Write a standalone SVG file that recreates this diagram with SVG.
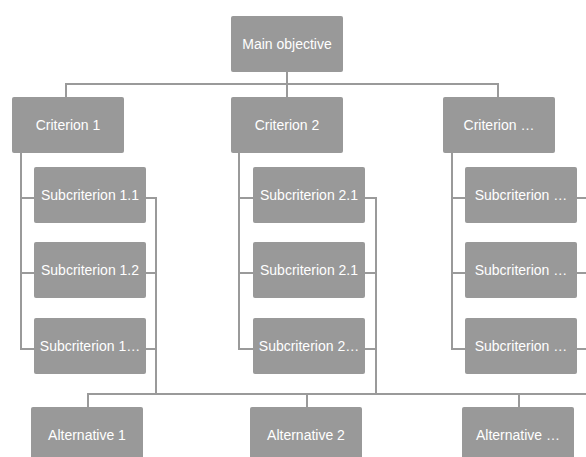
<svg xmlns="http://www.w3.org/2000/svg" width="586" height="457" viewBox="0 0 586 457">
<style>
.box{fill:#999999;}
.lbl{fill:#ffffff;font-family:"Liberation Sans",Arial,sans-serif;font-size:14px;text-anchor:middle;}
.ln{fill:none;stroke:#9a9a9a;stroke-width:2;}
</style>
<rect width="586" height="457" fill="#ffffff"/>
<g id="connectors">
<path class="ln" d="M287 72V97M66 97V84H498V97"/>
<path class="ln" d="M21 153V349H34M21 198H34M21 273H34"/>
<path class="ln" d="M239 153V349H253M239 198H253M239 273H253"/>
<path class="ln" d="M452 153V349H465M452 198H465M452 273H465"/>
<path class="ln" d="M146 198H156V394M146 273H156M146 349H156"/>
<path class="ln" d="M365 198H376V394M365 273H376M365 349H376"/>
<path class="ln" d="M577 198H590M577 273H590M577 349H590"/>
<path class="ln" d="M88 407V394H592M307 394V407M519 394V407"/>
</g>
<g id="main"><rect class="box" x="231" y="16" width="112" height="56" rx="2"/><text class="lbl" x="287" y="49">Main objective</text></g>
<g id="c1"><rect class="box" x="12" y="97" width="112" height="56" rx="2"/><text class="lbl" x="68" y="130">Criterion 1</text></g>
<g id="c2"><rect class="box" x="231" y="97" width="112" height="56" rx="2"/><text class="lbl" x="287" y="130">Criterion 2</text></g>
<g id="c3"><rect class="box" x="443" y="97" width="112" height="56" rx="2"/><text class="lbl" x="499" y="130">Criterion …</text></g>
<g id="s11"><rect class="box" x="34" y="167" width="112" height="56" rx="2"/><text class="lbl" x="90" y="200">Subcriterion 1.1</text></g>
<g id="s12"><rect class="box" x="34" y="242" width="112" height="56" rx="2"/><text class="lbl" x="90" y="275">Subcriterion 1.2</text></g>
<g id="s13"><rect class="box" x="34" y="318" width="112" height="56" rx="2"/><text class="lbl" x="90" y="351">Subcriterion 1…</text></g>
<g id="s21"><rect class="box" x="253" y="167" width="112" height="56" rx="2"/><text class="lbl" x="309" y="200">Subcriterion 2.1</text></g>
<g id="s22"><rect class="box" x="253" y="242" width="112" height="56" rx="2"/><text class="lbl" x="309" y="275">Subcriterion 2.1</text></g>
<g id="s23"><rect class="box" x="253" y="318" width="112" height="56" rx="2"/><text class="lbl" x="309" y="351">Subcriterion 2…</text></g>
<g id="s31"><rect class="box" x="465" y="167" width="112" height="56" rx="2"/><text class="lbl" x="521" y="200">Subcriterion …</text></g>
<g id="s32"><rect class="box" x="465" y="242" width="112" height="56" rx="2"/><text class="lbl" x="521" y="275">Subcriterion …</text></g>
<g id="s33"><rect class="box" x="465" y="318" width="112" height="56" rx="2"/><text class="lbl" x="521" y="351">Subcriterion …</text></g>
<g id="a1"><rect class="box" x="31" y="407" width="112" height="56" rx="2"/><text class="lbl" x="87" y="440">Alternative 1</text></g>
<g id="a2"><rect class="box" x="250" y="407" width="112" height="56" rx="2"/><text class="lbl" x="306" y="440">Alternative 2</text></g>
<g id="a3"><rect class="box" x="462" y="407" width="112" height="56" rx="2"/><text class="lbl" x="518" y="440">Alternative …</text></g>
</svg>
